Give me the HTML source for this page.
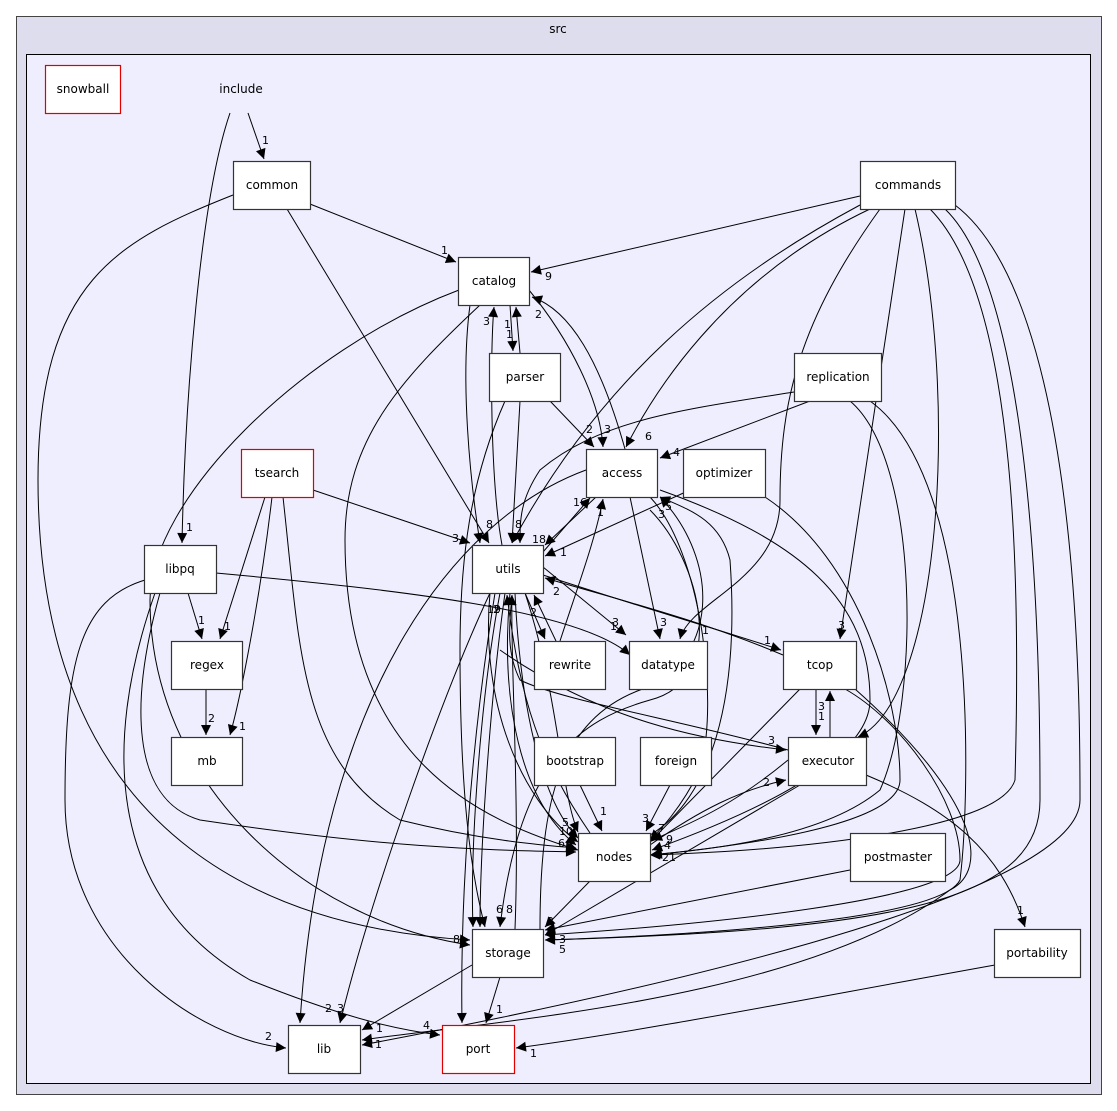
<!DOCTYPE html>
<html><head><meta charset="utf-8"><style>
html,body{margin:0;padding:0;background:#fff;}
svg{display:block;font-family:"DejaVu Sans","Liberation Sans",sans-serif;}
.n rect{fill:#fff;stroke:#333;stroke-width:1.2;}
.n.r rect{stroke:#e00000;}
.n text{font-size:12px;text-anchor:middle;}
.e{fill:none;stroke:#000;stroke-width:1;marker-end:url(#a);}
.l{font-size:11px;}
</style></head><body>
<svg width="1117" height="1111" viewBox="0 0 1117 1111" xmlns="http://www.w3.org/2000/svg">
<defs><marker id="a" viewBox="0 0 10 10" refX="10" refY="5" markerWidth="12" markerHeight="10" markerUnits="userSpaceOnUse" orient="auto"><path d="M0,0 L10,5 L0,10 z" fill="#000"/></marker></defs>
<rect x="16.5" y="16.5" width="1085" height="1078" fill="#ddddee" stroke="#444" stroke-width="1"/>
<text x="558" y="33" font-size="12" text-anchor="middle">src</text>
<rect x="26.5" y="54.5" width="1064" height="1029" fill="#eeeeff" stroke="#000" stroke-width="1"/>
<text x="241" y="93" font-size="12" text-anchor="middle">include</text>

<path class="e" d="M248,113 L264,159"/>
<path class="e" d="M230,113 C200,200 185,400 182,543"/>
<path class="e" d="M310,204 L456,262"/>
<path class="e" d="M233,195 C120,240 38,280 38,480 C38,860 300,930 470,940"/>
<path class="e" d="M287,209 L489,543"/>
<path class="e" d="M860,196 L531,272"/>
<path class="e" d="M860,205 C720,280 600,380 512,543"/>
<path class="e" d="M870,209 C720,280 650,400 626,447"/>
<path class="e" d="M880,209 C800,320 780,400 780,500 C780,580 690,600 680,639"/>
<path class="e" d="M905,209 L840,639"/>
<path class="e" d="M915,209 C960,400 940,700 858,737"/>
<path class="e" d="M930,209 C1020,300 1020,600 1015,780 C1000,830 800,850 650,855"/>
<path class="e" d="M945,209 C1040,300 1040,700 1040,800 C1040,900 900,930 545,940"/>
<path class="e" d="M955,205 C1080,300 1080,700 1080,800 C1080,900 600,1000 362,1045"/>
<path class="e" d="M459,290 C300,350 150,500 150,600 C150,780 300,920 470,945"/>
<path class="e" d="M470,305 C460,380 470,480 480,543"/>
<path class="e" d="M480,305 C400,380 345,440 345,540 C345,760 480,820 578,850"/>
<path class="e" d="M502,545 C490,480 490,350 494,307"/>
<path class="e" d="M510,305 L513,351"/>
<path class="e" d="M520,353 L516,307"/>
<path class="e" d="M529,290 C570,340 600,400 603,447"/>
<path class="e" d="M625,449 C600,360 570,310 532,297"/>
<path class="e" d="M550,401 L594,447"/>
<path class="e" d="M520,401 L512,543"/>
<path class="e" d="M505,401 C470,480 460,560 460,650 C460,790 470,870 485,927"/>
<path class="e" d="M794,392 C680,410 600,420 540,470 C520,500 520,520 520,543"/>
<path class="e" d="M810,401 L660,458"/>
<path class="e" d="M850,401 C920,460 920,700 880,790 C820,840 700,850 650,855"/>
<path class="e" d="M870,401 C980,480 970,800 960,880 C940,920 700,935 545,940"/>
<path class="e" d="M690,490 L545,556"/>
<path class="e" d="M765,497 C860,560 900,700 900,780 C900,830 700,850 652,855"/>
<path class="e" d="M313,490 L470,543"/>
<path class="e" d="M265,497 L220,639"/>
<path class="e" d="M272,497 C260,600 240,700 230,735"/>
<path class="e" d="M283,497 C300,650 300,760 400,820 C480,840 540,845 576,848"/>
<path class="e" d="M188,593 L202,639"/>
<path class="e" d="M216,573 C400,590 580,610 630,655"/>
<path class="e" d="M160,593 C130,700 130,800 200,820 C400,850 500,850 576,852"/>
<path class="e" d="M145,580 C80,600 65,660 65,800 C65,950 200,1040 286,1048"/>
<path class="e" d="M155,593 C100,750 110,900 250,980 C350,1020 400,1030 440,1035"/>
<path class="e" d="M206,689 L206,735"/>
<path class="e" d="M543,567 L626,635"/>
<path class="e" d="M543,575 C650,610 720,630 781,650"/>
<path class="e" d="M783,655 C700,620 620,600 545,578"/>
<path class="e" d="M525,593 L545,639"/>
<path class="e" d="M556,641 L534,595"/>
<path class="e" d="M543,552 L590,498"/>
<path class="e" d="M596,497 L545,545"/>
<path class="e" d="M560,641 C580,580 595,540 603,499"/>
<path class="e" d="M630,497 L660,639"/>
<path class="e" d="M586,470 C450,520 320,700 300,1023"/>
<path class="e" d="M490,593 C440,700 370,900 340,1023"/>
<path class="e" d="M500,593 C480,700 470,850 473,927"/>
<path class="e" d="M505,593 C490,700 480,850 480,927"/>
<path class="e" d="M495,593 C470,750 460,900 462,1023"/>
<path class="e" d="M510,593 C500,700 520,800 576,845"/>
<path class="e" d="M515,593 C520,700 540,800 578,838"/>
<path class="e" d="M490,593 C480,700 520,800 578,842"/>
<path class="e" d="M515,929 C520,800 510,650 512,595"/>
<path class="e" d="M525,593 C560,700 560,790 578,832"/>
<path class="e" d="M590,833 C540,760 520,700 507,595"/>
<path class="e" d="M788,750 C680,720 560,700 520,680 C505,650 510,620 512,595"/>
<path class="e" d="M500,650 C600,720 700,740 786,750"/>
<path class="e" d="M650,497 C700,550 720,700 700,770 C680,810 660,830 650,840"/>
<path class="e" d="M650,835 C710,800 740,700 730,560 C720,520 690,510 660,497"/>
<path class="e" d="M660,490 C800,540 870,600 870,700 C870,750 790,800 652,850"/>
<path class="e" d="M650,510 C700,560 730,680 650,700 C580,720 520,760 500,927"/>
<path class="e" d="M540,929 C540,800 560,720 640,690 C720,660 720,560 660,497"/>
<path class="e" d="M816,689 L816,735"/>
<path class="e" d="M830,737 L830,691"/>
<path class="e" d="M800,689 L650,842"/>
<path class="e" d="M845,689 C900,720 960,800 960,860 C960,900 700,925 545,935"/>
<path class="e" d="M788,760 C740,800 700,820 652,840"/>
<path class="e" d="M650,845 C700,810 740,790 786,780"/>
<path class="e" d="M800,785 L545,935"/>
<path class="e" d="M866,775 C950,810 1000,850 1025,927"/>
<path class="e" d="M855,689 C980,800 990,870 950,890 C800,1000 500,1020 362,1040"/>
<path class="e" d="M580,785 L602,831"/>
<path class="e" d="M670,785 L646,831"/>
<path class="e" d="M590,881 L545,927"/>
<path class="e" d="M850,870 L545,930"/>
<path class="e" d="M995,965 C800,1000 650,1030 516,1048"/>
<path class="e" d="M472,965 L362,1030"/>
<path class="e" d="M500,977 L486,1023"/>

<g class="l">
<text x="262" y="144">1</text><text x="186" y="531">1</text><text x="441" y="254">1</text>
<text x="545" y="280">9</text><text x="645" y="440">6</text><text x="838" y="629">3</text>
<text x="860" y="760">1</text><text x="702" y="634">1</text><text x="453" y="943">8</text>
<text x="483" y="325">3</text><text x="504" y="328">1</text><text x="535" y="318">2</text>
<text x="506" y="338">1</text><text x="586" y="433">2</text><text x="604" y="433">3</text>
<text x="673" y="456">4</text><text x="573" y="506">16</text><text x="597" y="516">1</text>
<text x="658" y="518">3</text><text x="665" y="510">5</text><text x="486" y="528">8</text>
<text x="515" y="528">8</text><text x="532" y="543">18</text><text x="560" y="556">1</text>
<text x="452" y="542">3</text><text x="553" y="595">2</text><text x="530" y="616">2</text>
<text x="487" y="613">19</text><text x="493" y="613">2</text><text x="610" y="630">1</text>
<text x="612" y="626">3</text><text x="660" y="626">3</text><text x="764" y="644">1</text>
<text x="224" y="630">1</text><text x="198" y="624">1</text><text x="208" y="722">2</text>
<text x="239" y="730">1</text><text x="818" y="710">3</text><text x="818" y="720">1</text>
<text x="768" y="744">3</text><text x="763" y="786">2</text><text x="600" y="815">1</text>
<text x="642" y="822">3</text><text x="658" y="832">7</text><text x="666" y="843">9</text>
<text x="664" y="849">4</text><text x="662" y="861">21</text><text x="562" y="826">5</text>
<text x="559" y="835">10</text><text x="558" y="847">6</text><text x="496" y="913">6</text>
<text x="506" y="913">8</text><text x="547" y="925">2</text><text x="559" y="943">3</text>
<text x="559" y="953">5</text><text x="1017" y="914">1</text><text x="470" y="1035">1</text>
<text x="496" y="1013">1</text><text x="530" y="1057">1</text><text x="376" y="1032">1</text>
<text x="375" y="1048">1</text><text x="325" y="1012">2</text><text x="337" y="1012">3</text>
<text x="265" y="1040">2</text><text x="423" y="1029">4</text>
</g>

<g class="n r"><rect x="45.5" y="65.5" width="75" height="48"/><text x="83" y="93">snowball</text></g>
<g class="n"><rect x="233.5" y="161.5" width="77" height="48"/><text x="272" y="189">common</text></g>
<g class="n"><rect x="860.5" y="161.5" width="95" height="48"/><text x="908" y="189">commands</text></g>
<g class="n"><rect x="458.5" y="257.5" width="71" height="48"/><text x="494" y="285">catalog</text></g>
<g class="n"><rect x="489.5" y="353.5" width="71" height="48"/><text x="525" y="381">parser</text></g>
<g class="n"><rect x="794.5" y="353.5" width="87" height="48"/><text x="838" y="381">replication</text></g>
<g class="n"><rect x="586.5" y="449.5" width="71" height="48"/><text x="622" y="477">access</text></g>
<g class="n"><rect x="683.5" y="449.5" width="82" height="48"/><text x="724" y="477">optimizer</text></g>
<g class="n r"><rect x="241.5" y="449.5" width="72" height="48"/><text x="277" y="477">tsearch</text></g>
<g class="n"><rect x="144.5" y="545.5" width="72" height="48"/><text x="180" y="573">libpq</text></g>
<g class="n"><rect x="472.5" y="545.5" width="71" height="48"/><text x="508" y="573">utils</text></g>
<g class="n"><rect x="534.5" y="641.5" width="71" height="48"/><text x="570" y="669">rewrite</text></g>
<g class="n"><rect x="629.5" y="641.5" width="78" height="48"/><text x="668" y="669">datatype</text></g>
<g class="n"><rect x="783.5" y="641.5" width="73" height="48"/><text x="820" y="669">tcop</text></g>
<g class="n"><rect x="171.5" y="641.5" width="71" height="48"/><text x="207" y="669">regex</text></g>
<g class="n"><rect x="171.5" y="737.5" width="71" height="48"/><text x="207" y="765">mb</text></g>
<g class="n"><rect x="534.5" y="737.5" width="81" height="48"/><text x="575" y="765">bootstrap</text></g>
<g class="n"><rect x="640.5" y="737.5" width="71" height="48"/><text x="676" y="765">foreign</text></g>
<g class="n"><rect x="788.5" y="737.5" width="78" height="48"/><text x="828" y="765">executor</text></g>
<g class="n"><rect x="578.5" y="833.5" width="72" height="48"/><text x="614" y="861">nodes</text></g>
<g class="n"><rect x="850.5" y="833.5" width="95" height="48"/><text x="898" y="861">postmaster</text></g>
<g class="n"><rect x="994.5" y="929.5" width="86" height="48"/><text x="1037" y="957">portability</text></g>
<g class="n"><rect x="472.5" y="929.5" width="71" height="48"/><text x="508" y="957">storage</text></g>
<g class="n"><rect x="288.5" y="1025.5" width="72" height="48"/><text x="324" y="1053">lib</text></g>
<g class="n r"><rect x="442.5" y="1025.5" width="72" height="48"/><text x="478" y="1053">port</text></g>
</svg>
</body></html>
